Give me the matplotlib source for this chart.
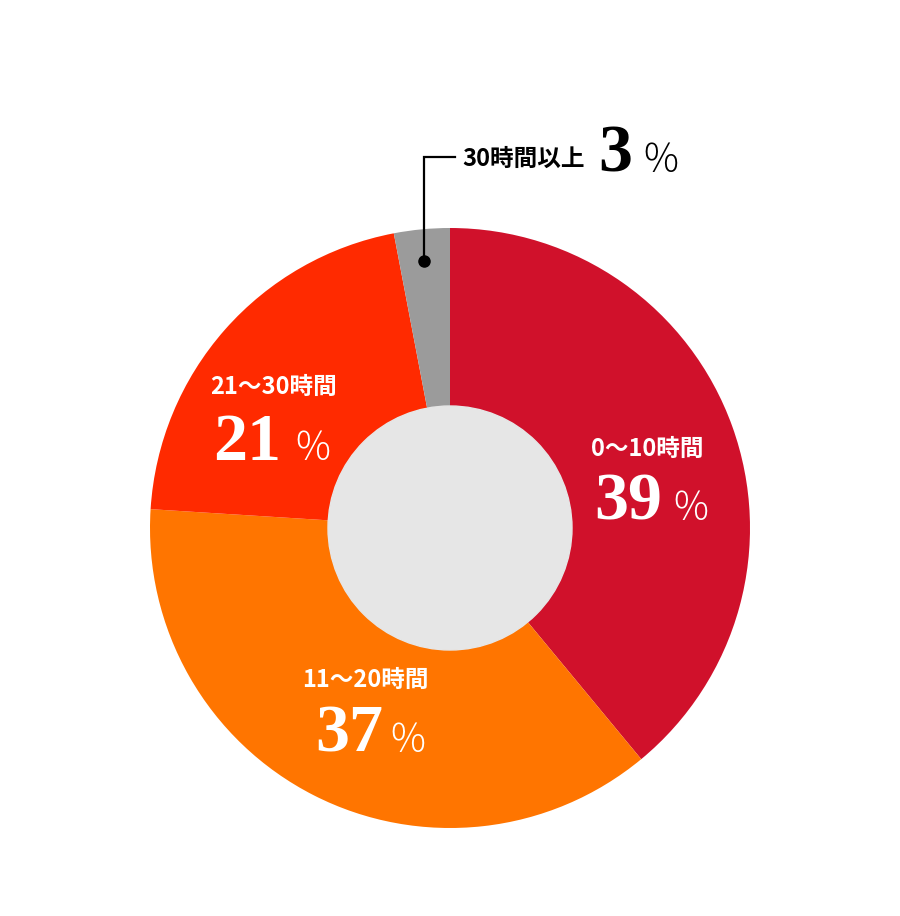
import matplotlib
matplotlib.use("Agg")
import matplotlib.pyplot as plt
from matplotlib.patches import Circle

categories = ["0〜10時間", "11〜20時間", "21〜30時間", "30時間以上"]
values = [39, 37, 21, 3]
colors = ["#d0112b", "#ff7500", "#ff2a00", "#9b9b9b"]

W, H = 900, 916
fig = plt.figure(figsize=(W / 100, H / 100), dpi=100)
ax = fig.add_axes([0, 0, 1, 1])

cx, cy = 450, H - 528
R = 300
ax.pie(values, colors=colors, startangle=90, counterclock=False,
       radius=R, center=(cx, cy), frame=True,
       wedgeprops=dict(linewidth=0))
ax.set_xlim(0, W)
ax.set_ylim(0, H)
ax.set_aspect("equal")
ax.axis("off")
ax.add_patch(Circle((cx, cy), 122, color="#e6e6e6", zorder=5))

cjk = ["Noto Sans CJK JP", "DejaVu Sans"]
serif = ["Liberation Serif", "DejaVu Serif"]

def y(v):
    return H - v

LBL = 17
NUM = 49
PCT = 28

# (category index, label center x, label center y, number right x, pct left x, baseline y)
inner = [
    (0, 647, 449, 662, 671, 520),
    (1, 365, 680, 383, 388, 752),
    (2, 274, 387, 281, 293, 460),
]
for i, lx, ly, nx, px, by in inner:
    ax.text(lx, y(ly), categories[i], family=cjk, weight="bold", fontsize=LBL,
            color="white", ha="center", va="center", zorder=6)
    ax.text(nx, y(by), str(values[i]), family=serif, weight="bold", fontsize=NUM,
            color="white", ha="right", va="baseline", zorder=6)
    ax.text(px, y(by), "％", family=cjk, fontsize=PCT, weight="light",
            color="white", ha="left", va="baseline", zorder=6)

# leader for the small slice
ax.plot([424, 424, 455], [y(261), y(157), y(157)], color="black", lw=1.6,
        solid_joinstyle="miter", zorder=7)
ax.plot([424], [y(261)], "o", color="black", ms=8, zorder=7)
ax.text(462, y(159), categories[3], family=cjk, weight="bold", fontsize=LBL,
        color="black", ha="left", va="center", zorder=7)
ax.text(632, y(172), str(values[3]), family=serif, weight="bold", fontsize=NUM,
        color="black", ha="right", va="baseline", zorder=7)
ax.text(641, y(172), "％", family=cjk, fontsize=PCT, weight="light",
        color="black", ha="left", va="baseline", zorder=7)

fig.savefig("out.png", dpi=100, facecolor="white")
